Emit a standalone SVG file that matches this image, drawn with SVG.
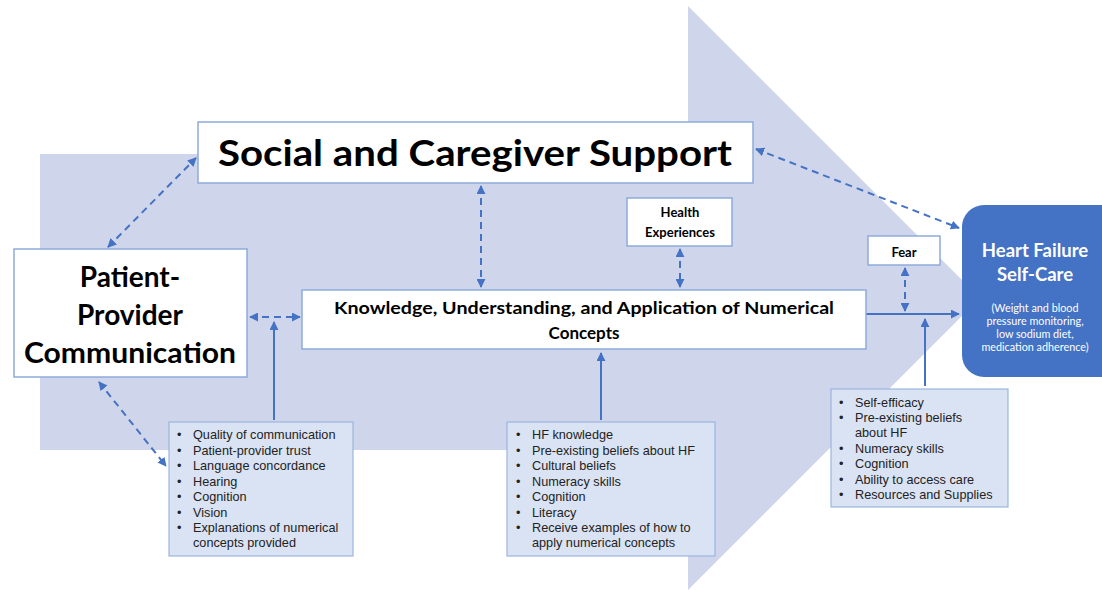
<svg xmlns="http://www.w3.org/2000/svg" width="1102" height="590" viewBox="0 0 1102 590">
<defs>
<marker id="ah" viewBox="0 0 10 10" refX="9" refY="5" markerWidth="4.5" markerHeight="4.5" orient="auto-start-reverse" markerUnits="strokeWidth">
<path d="M0,0 L10,5 L0,10 z" fill="#4472c4"/>
</marker>
<style>
.box{fill:#ffffff;stroke:#8eaadb;stroke-width:1.5}
.lbox{fill:#dae3f3;stroke:#9db5e0;stroke-width:1.2}
.t{font-family:Lato,"Open Sans","Liberation Sans",sans-serif;font-weight:bold;fill:#000;text-anchor:middle}
.b{font-family:"Liberation Sans",Arial,sans-serif;font-size:12.7px;fill:#222}
.dash{fill:none;stroke:#4472c4;stroke-width:2;stroke-dasharray:7,5;marker-start:url(#ah);marker-end:url(#ah)}
.solid{fill:none;stroke:#4472c4;stroke-width:2;marker-end:url(#ah)}
.w{font-family:Lato,"Open Sans","Liberation Sans",sans-serif;fill:#fff;text-anchor:middle}
</style>
</defs>
<rect width="1102" height="590" fill="#ffffff"/>
<g id="bigarrow">
<path d="M40,154 L688,154 L688,6 L980,298 L688,590 L688,450 L40,450 Z" fill="#cfd5ea"/>
</g>
<g id="connectors">
<line class="dash" x1="108" y1="247" x2="196" y2="158"/>
<line class="dash" x1="250" y1="317" x2="300" y2="317"/>
<line class="dash" x1="481" y1="186" x2="481" y2="287"/>
<line class="dash" x1="680" y1="249" x2="680" y2="287"/>
<line class="dash" x1="756" y1="149" x2="959" y2="228"/>
<line class="dash" x1="905" y1="268" x2="905" y2="311"/>
<line class="dash" x1="99" y1="382" x2="166" y2="466"/>
<line class="solid" x1="274" y1="420" x2="274" y2="322"/>
<line class="solid" x1="601" y1="420" x2="601" y2="353"/>
<line class="solid" x1="866" y1="314" x2="959" y2="314"/>
<line class="solid" x1="925" y1="386" x2="925" y2="319"/>
</g>
<g id="social">
<rect class="box" x="198" y="122" width="555" height="61"/>
<text class="t" x="475" y="166" font-size="37" textLength="514" lengthAdjust="spacingAndGlyphs">Social and Caregiver Support</text>
</g>
<g id="patient">
<rect class="box" x="14" y="249" width="233" height="128"/>
<text class="t" x="130" y="287" font-size="28">Patient-</text>
<text class="t" x="130" y="325" font-size="28">Provider</text>
<text class="t" x="130" y="363" font-size="28" textLength="212" lengthAdjust="spacingAndGlyphs">Communication</text>
</g>
<g id="knowledge">
<rect class="box" x="302" y="290" width="564" height="59"/>
<text class="t" x="584" y="314" font-size="17" textLength="500" lengthAdjust="spacingAndGlyphs">Knowledge, Understanding, and Application of Numerical</text>
<text class="t" x="584" y="339" font-size="17">Concepts</text>
</g>
<g id="health">
<rect class="box" x="627" y="198" width="105" height="48"/>
<text class="t" x="680" y="217" font-size="13">Health</text>
<text class="t" x="680" y="237" font-size="13">Experiences</text>
</g>
<g id="fear">
<rect class="box" x="868" y="236" width="72" height="29"/>
<text class="t" x="904" y="257" font-size="13">Fear</text>
</g>
<g id="heartfailure">
<rect x="962" y="205" width="160" height="172" rx="22" ry="22" fill="#4472c4"/>
<text class="w" x="1035" y="257" font-size="18.5" font-weight="bold">Heart Failure</text>
<text class="w" x="1035" y="281" font-size="18.5" font-weight="bold">Self-Care</text>
<text class="w" x="1035" y="312" font-size="10.8" fill="#e3e9f6">(Weight and blood</text>
<text class="w" x="1035" y="325" font-size="10.8" fill="#e3e9f6">pressure monitoring,</text>
<text class="w" x="1035" y="338" font-size="10.8" fill="#e3e9f6">low sodium diet,</text>
<text class="w" x="1035" y="351" font-size="10.8" fill="#e3e9f6">medication adherence)</text>
</g>
<g id="factors1">
<rect class="lbox" x="169" y="422" width="184" height="134"/>
<g class="b">
<text x="177" y="439">•</text><text x="193" y="439">Quality of communication</text>
<text x="177" y="455">•</text><text x="193" y="455">Patient-provider trust</text>
<text x="177" y="470">•</text><text x="193" y="470">Language concordance</text>
<text x="177" y="486">•</text><text x="193" y="486">Hearing</text>
<text x="177" y="501">•</text><text x="193" y="501">Cognition</text>
<text x="177" y="517">•</text><text x="193" y="517">Vision</text>
<text x="177" y="532">•</text><text x="193" y="532">Explanations of numerical</text>
<text x="193" y="547">concepts provided</text>
</g>
</g>
<g id="factors2">
<rect class="lbox" x="507" y="422" width="208" height="134"/>
<g class="b">
<text x="516" y="439">•</text><text x="532" y="439">HF knowledge</text>
<text x="516" y="455">•</text><text x="532" y="455">Pre-existing beliefs about HF</text>
<text x="516" y="470">•</text><text x="532" y="470">Cultural beliefs</text>
<text x="516" y="486">•</text><text x="532" y="486">Numeracy skills</text>
<text x="516" y="501">•</text><text x="532" y="501">Cognition</text>
<text x="516" y="517">•</text><text x="532" y="517">Literacy</text>
<text x="516" y="532">•</text><text x="532" y="532">Receive examples of how to</text>
<text x="532" y="547">apply numerical concepts</text>
</g>
</g>
<g id="factors3">
<rect class="lbox" x="831" y="389" width="177" height="118"/>
<g class="b">
<text x="839" y="407">•</text><text x="855" y="407">Self-efficacy</text>
<text x="839" y="422">•</text><text x="855" y="422">Pre-existing beliefs</text>
<text x="855" y="437">about HF</text>
<text x="839" y="453">•</text><text x="855" y="453">Numeracy skills</text>
<text x="839" y="468">•</text><text x="855" y="468">Cognition</text>
<text x="839" y="484">•</text><text x="855" y="484">Ability to access care</text>
<text x="839" y="499">•</text><text x="855" y="499">Resources and Supplies</text>
</g>
</g>
</svg>
